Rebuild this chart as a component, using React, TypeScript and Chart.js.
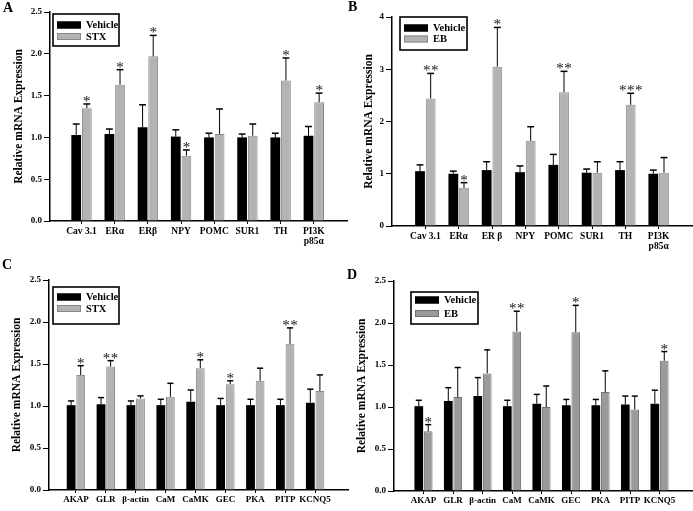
import React, { useEffect, useRef } from "react";
import { Chart, registerables } from "chart.js";
Chart.register(...registerables);

const FONT = "'Liberation Serif', 'Times New Roman', serif";

// ---------- Panel A ----------
const labelsA = ["Cav 3.1", "ERα", "ERβ", "NPY", "POMC", "SUR1", "TH", ["PI3K", "p85α"]];
const vehicleA = [1.03, 1.04, 1.12, 1.01, 1.0, 1.0, 1.0, 1.02];
const vehicleSemA = [0.13, 0.06, 0.27, 0.08, 0.05, 0.04, 0.05, 0.11];
const stxA = [1.35, 1.63, 1.97, 0.78, 1.04, 1.02, 1.68, 1.42];
const stxSemA = [0.05, 0.18, 0.25, 0.07, 0.3, 0.14, 0.27, 0.11];
const starsA = ["*", "*", "*", "*", "", "", "*", "*"];

// ---------- Panel B ----------
const labelsB = ["Cav 3.1", "ERα", "ER β", "NPY", "POMC", "SUR1", "TH", ["PI3K", "p85α"]];
const vehicleB = [1.05, 1.0, 1.07, 1.03, 1.17, 1.02, 1.07, 1.0];
const vehicleSemB = [0.12, 0.05, 0.16, 0.12, 0.2, 0.07, 0.16, 0.07];
const ebB = [2.44, 0.73, 3.05, 1.63, 2.56, 1.02, 2.32, 1.02];
const ebSemB = [0.48, 0.1, 0.75, 0.27, 0.4, 0.21, 0.22, 0.29];
const starsB = ["**", "*", "*", "", "**", "", "***", ""];

// ---------- Panel C ----------
const labelsC = ["AKAP", "GLR", "β-actin", "CaM", "CaMK", "GEC", "PKA", "PITP", "KCNQ5"];
const vehicleC = [1.01, 1.02, 1.01, 1.01, 1.05, 1.01, 1.01, 1.01, 1.04];
const vehicleSemC = [0.05, 0.08, 0.05, 0.07, 0.14, 0.08, 0.07, 0.07, 0.16];
const stxC = [1.37, 1.47, 1.09, 1.11, 1.45, 1.26, 1.3, 1.74, 1.18];
const stxSemC = [0.11, 0.07, 0.03, 0.16, 0.1, 0.04, 0.15, 0.19, 0.19];
const starsC = ["*", "**", "", "", "*", "*", "", "**", ""];

// ---------- Panel D ----------
const labelsD = ["AKAP", "GLR", "β-actin", "CaM", "CaMK", "GEC", "PKA", "PITP", "KCNQ5"];
const vehicleD = [1.01, 1.07, 1.13, 1.01, 1.04, 1.02, 1.02, 1.03, 1.04];
const vehicleSemD = [0.07, 0.16, 0.22, 0.07, 0.11, 0.07, 0.07, 0.1, 0.16];
const ebD = [0.71, 1.12, 1.4, 1.9, 1.0, 1.89, 1.18, 0.97, 1.55];
const ebSemD = [0.08, 0.35, 0.28, 0.24, 0.25, 0.32, 0.25, 0.16, 0.11];
const starsD = ["*", "", "", "**", "", "*", "", "", "*"];

const Y_TITLE = "Relative mRNA Expression";

const errorBarPlugin = {
  id: "errorBars",
  afterDatasetsDraw(chart: any) {
    const { ctx } = chart;
    const yScale = chart.scales.y;
    ctx.save();
    chart.data.datasets.forEach((ds: any, di: number) => {
      const meta = chart.getDatasetMeta(di);
      meta.data.forEach((bar: any, i: number) => {
        const v = ds.data[i].y;
        const top = yScale.getPixelForValue(v + ds.sem[i]);
        const { x, y, width } = bar.getProps(["x", "y", "width"], true);
        ctx.strokeStyle = "#000";
        ctx.lineWidth = 1;
        ctx.beginPath();
        ctx.moveTo(x, y);
        ctx.lineTo(x, top);
        ctx.stroke();
        ctx.lineWidth = 1.5;
        ctx.beginPath();
        ctx.moveTo(x - width * 0.35, top);
        ctx.lineTo(x + width * 0.35, top);
        ctx.stroke();
        const s = ds.stars ? ds.stars[i] : "";
        if (s) {
          ctx.fillStyle = "#111";
          ctx.font = `15px ${FONT}`;
          ctx.textAlign = "center";
          ctx.textBaseline = "alphabetic";
          const n = s.length;
          for (let k = 0; k < n; k++) {
            ctx.fillText("*", x + (k - (n - 1) / 2) * 8, top + 2);
          }
        }
      });
    });
    ctx.restore();
  },
};

const boxLegendPlugin = {
  id: "boxLegend",
  afterDraw(chart: any, _args: any, o: any) {
    const { ctx, chartArea } = chart;
    const bx = chartArea.left + o.dx;
    const by = chartArea.top + o.dy;
    ctx.save();
    ctx.fillStyle = "#fff";
    ctx.fillRect(bx, by, o.w, o.h);
    ctx.lineWidth = 1.6;
    ctx.strokeStyle = "#000";
    ctx.strokeRect(bx, by, o.w, o.h);
    chart.data.datasets.forEach((ds: any, i: number) => {
      const cy = by + o.rows[i];
      ctx.fillStyle = ds.backgroundColor;
      ctx.fillRect(bx + 4, cy - 3.5, 24, 7);
      ctx.lineWidth = 1;
      ctx.strokeStyle = ds.borderColor;
      ctx.strokeRect(bx + 4.5, cy - 3, 23, 6);
      ctx.fillStyle = "#000";
      ctx.font = `bold 10.5px ${FONT}`;
      ctx.textAlign = "left";
      ctx.textBaseline = "middle";
      ctx.fillText(ds.label, bx + 33, cy + 0.5);
    });
    ctx.restore();
  },
};

type PanelProps = {
  labels: any[];
  vehicle: number[];
  vehicleSem: number[];
  treat: number[];
  treatSem: number[];
  stars: string[];
  treatLabel: string;
  treatColor: string;
  treatBorder: string;
  yMax: number;
  yStep: number;
  decimals: number;
  box: { left: number; top: number; w: number; h: number };
  pad: { left: number; top: number; right: number };
  yW: number;
  xH: number;
  xMin: number;
  xMax: number;
  xFont: number;
  legend: { dx: number; dy: number; w: number; h: number; rows: number[] };
};

function Panel(p: PanelProps) {
  const ref = useRef<HTMLCanvasElement>(null);
  useEffect(() => {
    const canvas = ref.current!;
    const chart = new Chart(canvas, {
      type: "bar",
      data: {
        datasets: [
          {
            label: "Vehicle",
            data: p.vehicle.map((v, i) => ({ x: i, y: v })),
            backgroundColor: "#000",
            borderColor: "#000",
            borderWidth: 0,
            categoryPercentage: 0.64,
            barPercentage: 0.92,
            sem: p.vehicleSem,
            stars: [],
          } as any,
          {
            label: p.treatLabel,
            data: p.treat.map((v, i) => ({ x: i, y: v })),
            backgroundColor: p.treatColor,
            borderColor: p.treatBorder,
            borderWidth: 1,
            categoryPercentage: 0.64,
            barPercentage: 0.92,
            sem: p.treatSem,
            stars: p.stars,
          } as any,
        ],
      },
      options: {
        responsive: false,
        animation: false,
        layout: { padding: { left: p.pad.left, top: p.pad.top, right: p.pad.right, bottom: 0 } },
        plugins: {
          legend: { display: false },
          tooltip: { enabled: false },
          boxLegend: p.legend,
        } as any,
        scales: {
          x: {
            type: "linear",
            min: p.xMin,
            max: p.xMax,
            offset: false,
            afterBuildTicks: (scale: any) => {
              scale.ticks = p.labels.map((_, i) => ({ value: i }));
            },
            afterFit: (scale: any) => {
              scale.height = p.xH;
            },
            grid: {
              drawOnChartArea: false,
              drawTicks: true,
              tickLength: 3,
              color: "#000",
              lineWidth: 1,
              offset: false,
            },
            border: { display: true, color: "#000", width: 1.5 },
            ticks: {
              autoSkip: false,
              maxRotation: 0,
              minRotation: 0,
              padding: 2,
              color: "#000",
              font: { family: FONT, size: p.xFont, weight: "bold", lineHeight: 1.1 },
              callback: (value: any) => p.labels[value as number] ?? "",
            },
          },
          y: {
            type: "linear",
            min: 0,
            max: p.yMax,
            afterFit: (scale: any) => {
              scale.width = p.yW;
            },
            grid: {
              drawOnChartArea: false,
              drawTicks: true,
              tickLength: 6,
              color: "#000",
              lineWidth: 1,
            },
            border: { display: true, color: "#000", width: 1.5 },
            ticks: {
              stepSize: p.yStep,
              padding: 2,
              color: "#000",
              font: { family: FONT, size: 9, weight: "bold" },
              callback: (value: any) => Number(value).toFixed(p.decimals),
            },
            title: {
              display: true,
              text: Y_TITLE,
              color: "#000",
              padding: { top: 2, bottom: 0 },
              font: { family: FONT, size: 11.5, weight: "bold" },
            },
          },
        } as any,
      },
      plugins: [errorBarPlugin, boxLegendPlugin],
    });
    return () => chart.destroy();
  }, []);
  return (
    <canvas
      ref={ref}
      width={p.box.w}
      height={p.box.h}
      style={{ position: "absolute", left: p.box.left, top: p.box.top, width: p.box.w, height: p.box.h }}
    />
  );
}

const letterStyle = (left: number, top: number): React.CSSProperties => ({
  position: "absolute",
  left,
  top,
  fontFamily: FONT,
  fontWeight: "bold",
  fontSize: 14,
  lineHeight: 1,
  color: "#000",
});

export default function App() {
  return (
    <div style={{ position: "absolute", left: 0, top: 0, width: 693, height: 511, background: "#fff", overflow: "hidden" }}>
      <Panel
        labels={labelsA}
        vehicle={vehicleA}
        vehicleSem={vehicleSemA}
        treat={stxA}
        treatSem={stxSemA}
        stars={starsA}
        treatLabel="STX"
        treatColor="#b3b3b3"
        treatBorder="#8a8a8a"
        yMax={2.5}
        yStep={0.5}
        decimals={1}
        box={{ left: 0, top: 0, w: 350, h: 255 }}
        pad={{ left: 10, top: 12, right: 3 }}
        yW={40}
        xH={34}
        xMin={-0.95}
        xMax={8.0}
        xFont={9.5}
        legend={{ dx: 3, dy: 2, w: 66, h: 32, rows: [11, 22.5] }}
      />
      <Panel
        labels={labelsB}
        vehicle={vehicleB}
        vehicleSem={vehicleSemB}
        treat={ebB}
        treatSem={ebSemB}
        stars={starsB}
        treatLabel="EB"
        treatColor="#b3b3b3"
        treatBorder="#8a8a8a"
        yMax={4}
        yStep={1}
        decimals={0}
        box={{ left: 345, top: 0, w: 348, h: 255 }}
        pad={{ left: 15, top: 17, right: 1 }}
        yW={32}
        xH={29}
        xMin={-1}
        xMax={8.0}
        xFont={9.5}
        legend={{ dx: 8, dy: 0, w: 67, h: 33, rows: [11, 22] }}
      />
      <Panel
        labels={labelsC}
        vehicle={vehicleC}
        vehicleSem={vehicleSemC}
        treat={stxC}
        treatSem={stxSemC}
        stars={starsC}
        treatLabel="STX"
        treatColor="#b3b3b3"
        treatBorder="#8a8a8a"
        yMax={2.5}
        yStep={0.5}
        decimals={1}
        box={{ left: 0, top: 255, w: 350, h: 256 }}
        pad={{ left: 8, top: 25, right: 2 }}
        yW={41}
        xH={21}
        xMin={-0.9}
        xMax={9.1}
        xFont={9}
        legend={{ dx: 4, dy: 7, w: 66, h: 37, rows: [10, 21.5] }}
      />
      <Panel
        labels={labelsD}
        vehicle={vehicleD}
        vehicleSem={vehicleSemD}
        treat={ebD}
        treatSem={ebSemD}
        stars={starsD}
        treatLabel="EB"
        treatColor="#9a9a9a"
        treatBorder="#707070"
        yMax={2.5}
        yStep={0.5}
        decimals={1}
        box={{ left: 345, top: 255, w: 348, h: 256 }}
        pad={{ left: 8, top: 26, right: 1 }}
        yW={41}
        xH={20}
        xMin={-1.0}
        xMax={9.1}
        xFont={9}
        legend={{ dx: 17, dy: 11, w: 67, h: 32, rows: [8, 21.5] }}
      />
      <div style={letterStyle(3, 0.6)}>A</div>
      <div style={letterStyle(348, -0.4)}>B</div>
      <div style={letterStyle(2, 257.6)}>C</div>
      <div style={letterStyle(347, 267.6)}>D</div>
    </div>
  );
}
